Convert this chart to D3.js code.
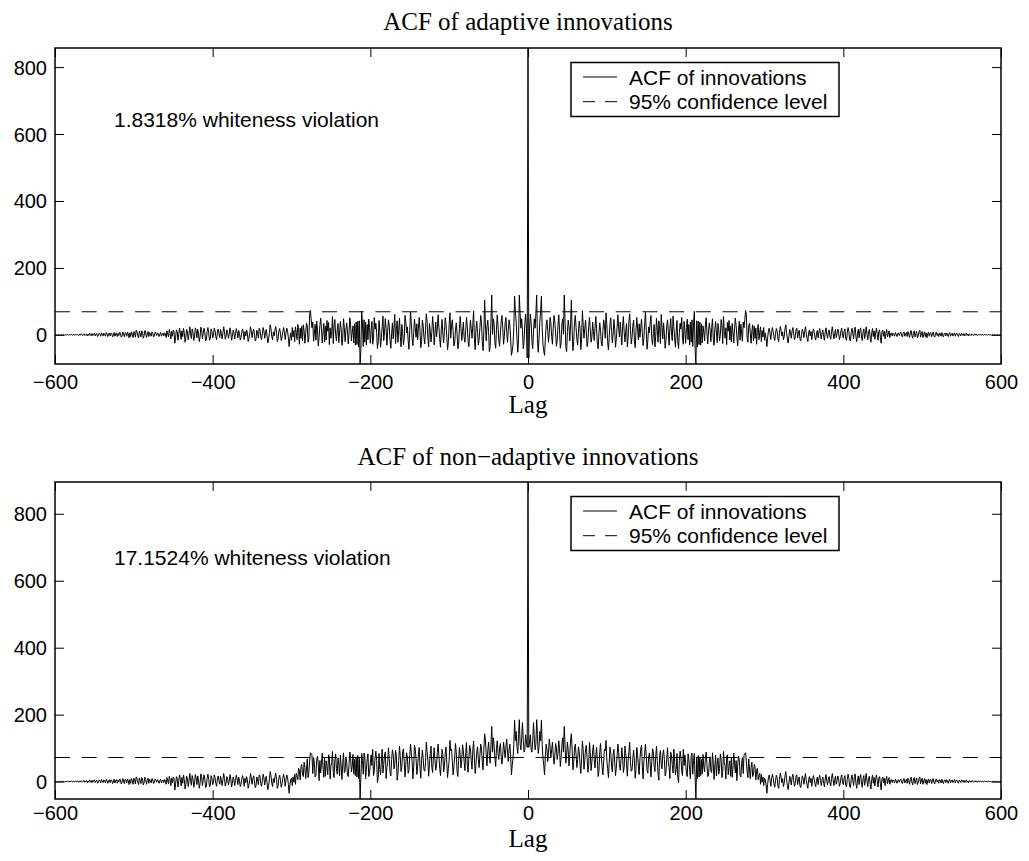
<!DOCTYPE html>
<html>
<head>
<meta charset="utf-8">
<script src="https://cdn.jsdelivr.net/npm/d3@7"></script>
<style>
  body { margin: 0; background: #fff; }
  svg text { fill: #000; }
</style>
</head>
<body>
<script>
// ---- axis ticks and labels ----
const lagTicks = [-600, -400, -200, 0, 200, 400, 600];
const valueTicks = [0, 200, 400, 600, 800];
const panelTitles = ["ACF of adaptive innovations", "ACF of non\u2212adaptive innovations"];
const violationNotes = ["1.8318% whiteness violation", "17.1524% whiteness violation"];
const legendLabels = ["ACF of innovations", "95% confidence level"];
const confidenceLevels = [69, 72];

// ---- autocorrelation values; the ACF is even in lag, so lags 0..600 are stored ----
// adaptive filter, lags 0..300
const adaptiveHalf = [
  857, -69, 18, 62, 35, -20, -41, 12, 48, 20,
  64, 119, -15, -52, -10, 38, 70, 116, 22, -30,
  -48, -61, -12, 30, 45, 14, -22, 8, 52, 36,
  -5, -28, 20, 58, 41, 6, -34, -18, 26, 60,
  15, -40, -22, 33, 48, 2, 119, 40, -35, -50,
  10, 44, 25, -18, 30, 104, 12, -47, -20, 36,
  58, 22, -15, -30, 8, 41, 20, -44, -12, 72,
  30, -10, 18, 44, 6, -35, -20, 25, 52, 15,
  -22, -8, 38, 10, -17, 20, 55, 18, -28, -42,
  5, 36, 14, -24, -33, 12, 45, 28, -10, 66,
  30, -19, -45, -8, 33, 51, 10, -24, 2, 46,
  15, -37, -12, 23, 60, 20, -6, 38, 5, -30,
  26, 55, 8, -21, 11, 34, -36, -10, 41, 63,
  17, -27, -8, 29, 44, -20, -38, 12, 52, 20,
  -15, 33, -7, 21, 47, 8, -32, -11, 36, 68,
  14, -43, -18, 24, 6, 39, 58, -11, -29, 9,
  31, -36, -5, 50, 14, -22, 42, 18, -26, 61,
  23, -12, 36, 3, -40, -17, 27, 45, 10, -31,
  20, 49, 6, -17, 56, 25, -8, -37, 11, 43,
  -21, -41, 8, 35, 17, 52, -9, -28, 40, 13,
  -25, 22, 47, -14, 31, -30, 38, -22, 45, -35,
  36, 70, -44, -87, 42, -36, 41, -29, 38, -31,
  33, -24, 27, 8, -18, 30, 51, 6, -27, 12,
  36, 15, -20, 22, 48, -9, -31, 17, 40, 8,
  -23, 34, 15, -18, 2, 46, 29, -26, 55, 10,
  -10, 21, -29, 37, 11, 43, -15, 26, -21, 34,
  9, -24, 18, 50, 28, -7, -33, 14, 41, -16,
  32, 5, -19, 38, 21, 45, 73, 60, -12, -22,
  27, 35, 4, -25, 12, 30, -18, 26, -10, 20,
  -28, 16, 31, -14, 8, 24, -20, 13, -6, 22,
  -16
];

// non-adaptive filter, lags 0..300
const nonAdaptiveHalf = [
  895, 102, 118, 140, 96, 88, 124, 176, 130, 95,
  112, 185, 140, 84, 105, 150, 122, 183, 110, 70,
  48, 20, 76, 112, 98, 60, 88, 127, 104, 71,
  95, 118, 80, 52, 74, 114, 101, 66, 84, 122,
  98, 45, 72, 109, 131, 88, 165, 110, 55, 78,
  118, 92, 47, 81, 125, 143, 96, 35, 58, 97,
  112, 80, 42, 66, 104, 89, 51, 24, 70, 121,
  95, 37, 62, 99, 108, 71, 28, 49, 117, 86,
  33, 58, 92, 110, 66, 41, 79, 102, 63, 15,
  31, 88, 114, 73, 44, 20, 61, 97, 92, 123,
  64, 39, 12, 55, 103, 85, 47, 29, 80, 96,
  58, 18, 40, 75, 112, 87, 50, 34, 66, 101,
  72, 27, 43, 106, 83, 55, 16, 62, 91, 118,
  57, 31, 35, 70, 94, 64, 10, 40, 102, 81,
  46, 21, 68, 97, 109, 44, 8, 59, 85, 112,
  77, 33, 25, 71, 86, 52, 14, 60, 98, 89,
  45, 30, 74, 106, 63, 22, 4, 78, 93, 50,
  38, 82, 95, 66, 17, 28, 69, 101, 57, 42,
  9, 88, 79, 51, 26, 97, 61, 20, 36, 84,
  12, -3, 64, 91, 72, 31, 18, 96, 48, 80,
  55, 24, 15, 83, 68, 37, 8, 76, 85, 22,
  63, 84, 11, -52, 70, 9, 78, 14, 72, 18,
  66, 23, 81, 44, 29, 70, 88, 52, 15, 20,
  58, 74, 31, 27, 86, 55, 6, 46, 79, 17,
  50, 71, 22, 39, 83, 65, 12, 28, 90, 57,
  47, 8, 73, 80, 21, 45, 62, 16, 70, 13,
  40, 85, 54, 26, 63, 3, 49, 76, 67, 19,
  14, 55, 72, 24, 79, 84, 86, 61, 28, 12,
  68, 37, 9, 42, 58, 15, 22, 51, 44, 5,
  32, 40, 6, 18, 25, -8, 21, -2, 14, -12,
  10
];

// lags 301..600, common to both filters
const sharedTail = [
  6, -10, -35, -8, 12, 20, 5, -14, 8, 22,
  10, -6, -17, 4, 19, 11, -12, -20, 7, 25,
  14, -3, 9, -15, -5, 18, 30, 8, -12, -24,
  -4, 16, 6, -10, 12, 22, 3, -14, -6, 15,
  20, -9, 5, 14, -13, -18, 2, 17, 9, -8,
  11, 24, 4, -11, -20, 6, 15, -3, 10, -14,
  5, 18, 9, -7, -15, 4, 13, -9, 8, 19,
  3, -12, 6, 14, -5, -16, 8, 21, 2, -10,
  7, 15, -4, -13, 9, 24, 6, -12, 4, 16,
  -8, 3, 17, 8, -14, -6, 12, 20, -3, -9,
  11, 18, -10, -16, 6, 22, 10, -14, -18, 8,
  20, 4, -12, 15, 23, -6, -20, 5, 17, -9,
  12, 21, -4, -17, 8, 18, -11, 4, 24, 2,
  -15, 9, 16, -8, -22, 7, 19, -5, 12, -13,
  6, 20, 3, -16, 10, 15, -7, -25, 9, 14,
  -4, 11, -12, 5, 16, -6, 2, 12, -8, 4,
  6, -3, 5, 1, -4, 7, 2, -5, 3, 6,
  -2, 4, 8, -3, -6, 5, 9, -4, 2, 7,
  -5, 10, 3, -8, 6, 13, -2, -10, 8, 12,
  -6, 4, 11, -9, -3, 9, 14, -7, 5, 10,
  -8, 2, 9, -5, 6, -9, 3, 8, -4, 5,
  7, -6, 2, 9, -3, -7, 5, 8, -2, 4,
  -5, 6, 3, -4, 7, -2, -6, 4, 5, -3,
  6, 2, -5, 3, 7, -4, 1, 5, -3, 2,
  6, -4, 3, 5, -2, -5, 4, 2, -3, 5,
  3, -2, 4, -3, 1, 5, -2, 2, -3, 3,
  1, -2, 3, 2, -2, 1, 3, -1, 2, -2,
  1, 2, -1, 1, -1, 2, 0, -1, 1, 1,
  -1, 1, 0, 1, -1, 1, 0, -1, 1, 0,
  0, 1, -1, 0, 1, 0, -1, 0, 1, 0
];

// ---- build full two-sided series ----
function twoSided(half, tail) {
  const oneSided = half.concat(tail); // lags 0..600
  const pts = [];
  for (let lag = -600; lag <= 600; lag++) pts.push({ lag, v: oneSided[Math.abs(lag)] });
  return pts;
}
const series = [twoSided(adaptiveHalf, sharedTail), twoSided(nonAdaptiveHalf, sharedTail)];

// ---- layout ----
const W = 1029, H = 861;
const panels = [
  { top: 48, bottom: 364, titleY: 30, noteY: 127, labelY: 389, xlabY: 413 },
  { top: 482, bottom: 799, titleY: 465, noteY: 565, labelY: 820, xlabY: 847 }
];
const left = 55, right = 1001;
const sans = "'Liberation Sans', Arial, Helvetica, sans-serif";
const serif = "'Liberation Serif', 'Times New Roman', Times, serif";
const tickLen = 9;

const svg = d3.select("body").append("svg")
  .attr("width", W).attr("height", H)
  .attr("viewBox", `0 0 ${W} ${H}`);
svg.append("rect").attr("width", W).attr("height", H).attr("fill", "#fff");

const x = d3.scaleLinear().domain([-600, 600]).range([left, right]);
const fmt = d3.format("d");

panels.forEach((p, i) => {
  const data = series[i];
  const y = d3.scaleLinear().domain(d3.extent(data, d => d.v)).range([p.bottom, p.top]);
  const g = svg.append("g");

  // title
  g.append("text")
    .attr("x", (left + right) / 2).attr("y", p.titleY)
    .attr("text-anchor", "middle")
    .style("font-family", serif).style("font-size", "25px")
    .text(panelTitles[i]);

  const clipId = "clip" + i;
  svg.append("clipPath").attr("id", clipId)
    .append("rect").attr("x", left).attr("y", p.top)
    .attr("width", right - left).attr("height", p.bottom - p.top);

  const plot = g.append("g").attr("clip-path", `url(#${clipId})`);

  // ACF trace
  plot.append("path")
    .datum(data)
    .attr("fill", "none")
    .attr("stroke", "#000")
    .attr("stroke-width", 1)
    .attr("d", d3.line().x(d => x(d.lag)).y(d => y(d.v)));

  // confidence level
  plot.append("line")
    .attr("x1", x(-600)).attr("x2", x(600))
    .attr("y1", y(confidenceLevels[i])).attr("y2", y(confidenceLevels[i]))
    .attr("stroke", "#000").attr("stroke-width", 1)
    .attr("stroke-dasharray", "15,11.7");

  // axes: ticks pointing inward on all four sides
  const xb = g.append("g").attr("transform", `translate(0,${p.bottom})`)
    .call(d3.axisBottom(x).tickValues(lagTicks).tickFormat(fmt)
      .tickSizeInner(-tickLen).tickSizeOuter(0).tickPadding(0));
  xb.selectAll("text").attr("y", p.labelY - p.bottom).attr("dy", null);
  const xt = g.append("g").attr("transform", `translate(0,${p.top})`)
    .call(d3.axisTop(x).tickValues(lagTicks).tickSizeInner(-tickLen).tickSizeOuter(0));
  xt.selectAll("text").remove();
  const yl = g.append("g").attr("transform", `translate(${left},0)`)
    .call(d3.axisLeft(y).tickValues(valueTicks).tickFormat(fmt)
      .tickSizeInner(-tickLen).tickSizeOuter(0).tickPadding(8));
  const yr = g.append("g").attr("transform", `translate(${right},0)`)
    .call(d3.axisRight(y).tickValues(valueTicks).tickSizeInner(-tickLen).tickSizeOuter(0));
  yr.selectAll("text").remove();

  [xb, xt, yl, yr].forEach(a => {
    a.select(".domain").remove();
    a.selectAll("line").attr("stroke", "#000").attr("stroke-width", 1);
    a.selectAll("text").style("font-family", sans).style("font-size", "20px").attr("fill", "#000");
  });
  yl.selectAll("text").attr("dy", "0.35em");

  // frame
  g.append("rect")
    .attr("x", left).attr("y", p.top)
    .attr("width", right - left).attr("height", p.bottom - p.top)
    .attr("fill", "none").attr("stroke", "#000").attr("stroke-width", 1.5);

  // x label
  g.append("text")
    .attr("x", (left + right) / 2).attr("y", p.xlabY)
    .attr("text-anchor", "middle")
    .style("font-family", serif).style("font-size", "25px")
    .text("Lag");

  // whiteness note
  g.append("text")
    .attr("x", 114).attr("y", p.noteY)
    .style("font-family", sans).style("font-size", "21px")
    .text(violationNotes[i]);

  // legend
  const lg = g.append("g").attr("transform", `translate(571,${p.top + 14.5})`);
  lg.append("rect").attr("width", 268).attr("height", 54)
    .attr("fill", "#fff").attr("stroke", "#000").attr("stroke-width", 1.5);
  legendLabels.forEach((lab, k) => {
    const cy = 14.5 + k * 24.7;
    lg.append("line")
      .attr("x1", 12).attr("x2", 46).attr("y1", cy).attr("y2", cy)
      .attr("stroke", "#000").attr("stroke-width", 1)
      .attr("stroke-dasharray", k === 1 ? "12,10" : null);
    lg.append("text")
      .attr("x", 58).attr("y", cy).attr("dy", "0.36em")
      .style("font-family", sans).style("font-size", "21px")
      .text(lab);
  });
});
</script>
</body>
</html>
